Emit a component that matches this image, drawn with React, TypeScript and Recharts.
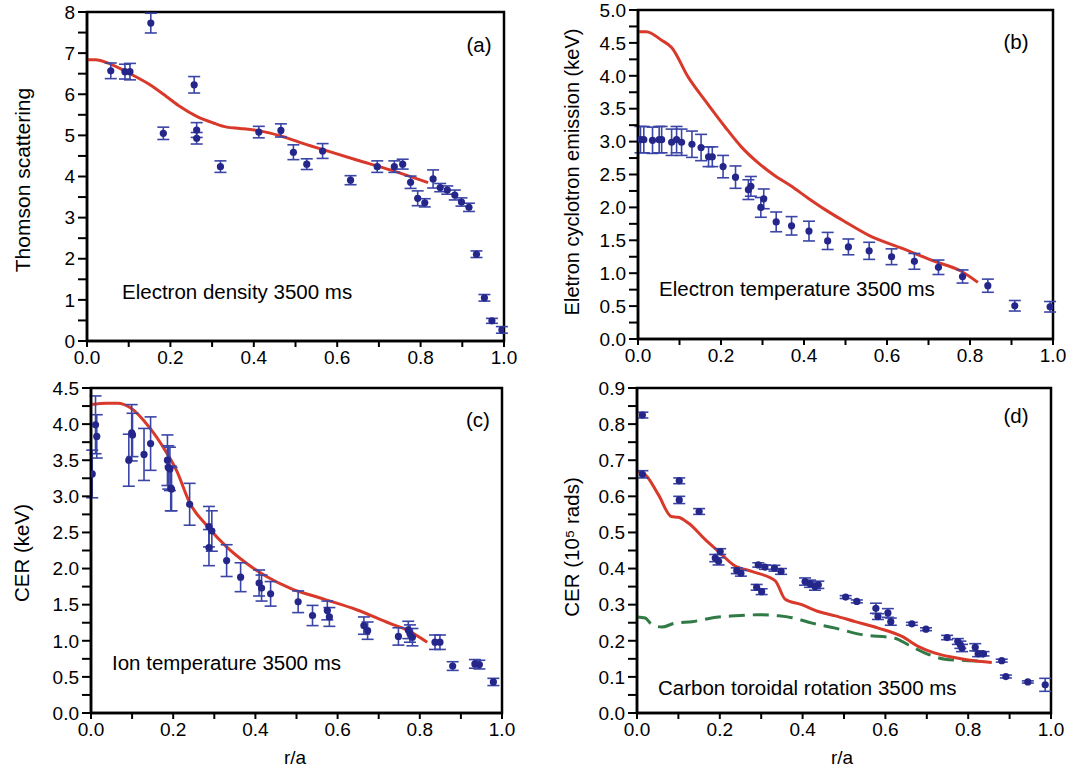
import React from 'react';
import { ComposedChart, Line, Scatter, ErrorBar, XAxis, YAxis, ReferenceArea } from 'recharts';

type Pt = { r: number; v: number; e?: number };

const rTicks = [0, 0.1, 0.2, 0.3, 0.4, 0.5, 0.6, 0.7, 0.8, 0.9, 1.0];
const densityTicks = [0, 0.5, 1, 1.5, 2, 2.5, 3, 3.5, 4, 4.5, 5, 5.5, 6, 6.5, 7, 7.5, 8];
const teTicks = [0, 0.25, 0.5, 0.75, 1, 1.25, 1.5, 1.75, 2, 2.25, 2.5, 2.75, 3, 3.25, 3.5, 3.75, 4, 4.25, 4.5, 4.75, 5];
const tiTicks = [0, 0.25, 0.5, 0.75, 1, 1.25, 1.5, 1.75, 2, 2.25, 2.5, 2.75, 3, 3.25, 3.5, 3.75, 4, 4.25, 4.5];
const rotTicks = [0, 0.05, 0.1, 0.15, 0.2, 0.25, 0.3, 0.35, 0.4, 0.45, 0.5, 0.55, 0.6, 0.65, 0.7, 0.75, 0.8, 0.85, 0.9];

// (a) electron density
const densityPoints: Pt[] = [
  { r: 0.057, v: 6.57, e: 0.19 }, { r: 0.091, v: 6.55, e: 0.18 }, { r: 0.103, v: 6.55, e: 0.2 },
  { r: 0.153, v: 7.73, e: 0.24 }, { r: 0.183, v: 5.05, e: 0.15 }, { r: 0.257, v: 6.23, e: 0.2 },
  { r: 0.263, v: 5.13, e: 0.18 }, { r: 0.263, v: 4.93, e: 0.14 }, { r: 0.32, v: 4.24, e: 0.14 },
  { r: 0.412, v: 5.08, e: 0.14 }, { r: 0.465, v: 5.12, e: 0.16 }, { r: 0.495, v: 4.59, e: 0.18 },
  { r: 0.527, v: 4.3, e: 0.13 }, { r: 0.565, v: 4.62, e: 0.18 }, { r: 0.632, v: 3.91, e: 0.11 },
  { r: 0.696, v: 4.24, e: 0.14 }, { r: 0.737, v: 4.24, e: 0.14 }, { r: 0.757, v: 4.3, e: 0.12 },
  { r: 0.776, v: 3.86, e: 0.15 }, { r: 0.793, v: 3.47, e: 0.18 }, { r: 0.81, v: 3.36, e: 0.1 },
  { r: 0.83, v: 3.94, e: 0.22 }, { r: 0.847, v: 3.73, e: 0.1 }, { r: 0.864, v: 3.67, e: 0.1 },
  { r: 0.882, v: 3.55, e: 0.12 }, { r: 0.898, v: 3.38, e: 0.1 }, { r: 0.916, v: 3.25, e: 0.1 },
  { r: 0.934, v: 2.11, e: 0.08 }, { r: 0.953, v: 1.05, e: 0.08 }, { r: 0.971, v: 0.49, e: 0.06 },
  { r: 0.995, v: 0.27, e: 0.08 },
];
const densityModel: Pt[] = [
  { r: 0, v: 6.84 }, { r: 0.02, v: 6.84 }, { r: 0.055, v: 6.74 }, { r: 0.103, v: 6.5 },
  { r: 0.151, v: 6.23 }, { r: 0.191, v: 5.94 }, { r: 0.223, v: 5.7 }, { r: 0.263, v: 5.46 },
  { r: 0.303, v: 5.3 }, { r: 0.335, v: 5.2 }, { r: 0.367, v: 5.17 }, { r: 0.415, v: 5.11 },
  { r: 0.463, v: 4.99 }, { r: 0.51, v: 4.83 }, { r: 0.567, v: 4.65 }, { r: 0.647, v: 4.4 },
  { r: 0.727, v: 4.16 }, { r: 0.818, v: 3.85 },
];

// (b) electron temperature
const tePoints: Pt[] = [
  { r: 0.006, v: 3.03, e: 0.2 }, { r: 0.014, v: 3.03, e: 0.2 }, { r: 0.035, v: 3.02, e: 0.2 },
  { r: 0.051, v: 3.03, e: 0.2 }, { r: 0.057, v: 3.03, e: 0.2 }, { r: 0.081, v: 2.99, e: 0.2 },
  { r: 0.093, v: 3.03, e: 0.2 }, { r: 0.105, v: 2.99, e: 0.2 }, { r: 0.13, v: 2.96, e: 0.2 },
  { r: 0.152, v: 2.91, e: 0.2 }, { r: 0.17, v: 2.77, e: 0.15 }, { r: 0.179, v: 2.77, e: 0.15 },
  { r: 0.205, v: 2.62, e: 0.17 }, { r: 0.235, v: 2.46, e: 0.17 }, { r: 0.266, v: 2.27, e: 0.15 },
  { r: 0.272, v: 2.32, e: 0.15 }, { r: 0.296, v: 2.0, e: 0.15 }, { r: 0.303, v: 2.13, e: 0.15 },
  { r: 0.333, v: 1.78, e: 0.15 }, { r: 0.37, v: 1.72, e: 0.14 }, { r: 0.412, v: 1.64, e: 0.15 },
  { r: 0.457, v: 1.49, e: 0.13 }, { r: 0.507, v: 1.4, e: 0.12 }, { r: 0.557, v: 1.34, e: 0.13 },
  { r: 0.611, v: 1.25, e: 0.12 }, { r: 0.666, v: 1.18, e: 0.12 }, { r: 0.724, v: 1.09, e: 0.11 },
  { r: 0.782, v: 0.95, e: 0.1 }, { r: 0.843, v: 0.81, e: 0.1 }, { r: 0.908, v: 0.505, e: 0.08 },
  { r: 0.993, v: 0.49, e: 0.08 },
];
const teModel: Pt[] = [
  { r: 0, v: 4.67 }, { r: 0.02, v: 4.67 }, { r: 0.057, v: 4.54 }, { r: 0.081, v: 4.43 },
  { r: 0.121, v: 3.98 }, { r: 0.161, v: 3.63 }, { r: 0.209, v: 3.23 }, { r: 0.249, v: 2.92 },
  { r: 0.289, v: 2.68 }, { r: 0.33, v: 2.48 }, { r: 0.37, v: 2.32 }, { r: 0.41, v: 2.14 },
  { r: 0.45, v: 1.97 }, { r: 0.494, v: 1.8 }, { r: 0.555, v: 1.58 }, { r: 0.635, v: 1.38 },
  { r: 0.715, v: 1.18 }, { r: 0.779, v: 1.03 }, { r: 0.819, v: 0.86 },
];

// (c) ion temperature
const tiPoints: Pt[] = [
  { r: 0.003, v: 3.31, e: 0.33 }, { r: 0.011, v: 3.99, e: 0.4 }, { r: 0.014, v: 3.83, e: 0.3 },
  { r: 0.092, v: 3.5, e: 0.36 }, { r: 0.099, v: 3.88, e: 0.39 }, { r: 0.101, v: 3.85, e: 0.3 },
  { r: 0.129, v: 3.58, e: 0.36 }, { r: 0.145, v: 3.73, e: 0.37 }, { r: 0.186, v: 3.5, e: 0.35 },
  { r: 0.188, v: 3.4, e: 0.3 }, { r: 0.192, v: 3.38, e: 0.3 }, { r: 0.194, v: 3.11, e: 0.31 },
  { r: 0.196, v: 3.1, e: 0.3 }, { r: 0.24, v: 2.89, e: 0.29 }, { r: 0.287, v: 2.58, e: 0.28 },
  { r: 0.294, v: 2.52, e: 0.28 }, { r: 0.287, v: 2.29, e: 0.25 }, { r: 0.33, v: 2.11, e: 0.22 },
  { r: 0.364, v: 1.88, e: 0.2 }, { r: 0.409, v: 1.8, e: 0.18 }, { r: 0.415, v: 1.73, e: 0.18 },
  { r: 0.437, v: 1.65, e: 0.17 }, { r: 0.504, v: 1.54, e: 0.15 }, { r: 0.539, v: 1.35, e: 0.14 },
  { r: 0.575, v: 1.42, e: 0.13 }, { r: 0.58, v: 1.33, e: 0.13 }, { r: 0.664, v: 1.21, e: 0.12 },
  { r: 0.673, v: 1.14, e: 0.12 }, { r: 0.748, v: 1.06, e: 0.12 }, { r: 0.772, v: 1.15, e: 0.12 },
  { r: 0.776, v: 1.1, e: 0.12 }, { r: 0.782, v: 1.05, e: 0.12 }, { r: 0.837, v: 0.98, e: 0.1 },
  { r: 0.849, v: 0.98, e: 0.1 }, { r: 0.88, v: 0.65, e: 0.06 }, { r: 0.934, v: 0.68, e: 0.06 },
  { r: 0.945, v: 0.67, e: 0.06 }, { r: 0.979, v: 0.43, e: 0.05 },
];
const tiModel: Pt[] = [
  { r: 0, v: 4.27 }, { r: 0.038, v: 4.29 }, { r: 0.066, v: 4.29 }, { r: 0.095, v: 4.23 },
  { r: 0.144, v: 3.94 }, { r: 0.18, v: 3.64 }, { r: 0.208, v: 3.36 }, { r: 0.241, v: 2.9 },
  { r: 0.281, v: 2.6 }, { r: 0.33, v: 2.3 }, { r: 0.379, v: 2.07 }, { r: 0.427, v: 1.89 },
  { r: 0.484, v: 1.73 }, { r: 0.565, v: 1.58 }, { r: 0.646, v: 1.43 }, { r: 0.727, v: 1.24 },
  { r: 0.768, v: 1.15 }, { r: 0.818, v: 0.98 },
];

// (d) carbon toroidal rotation
const rotPoints: Pt[] = [
  { r: 0.013, v: 0.825, e: 0.008 }, { r: 0.013, v: 0.661, e: 0.01 }, { r: 0.102, v: 0.643, e: 0.008 },
  { r: 0.102, v: 0.59, e: 0.01 }, { r: 0.15, v: 0.558, e: 0.008 }, { r: 0.201, v: 0.447, e: 0.008 },
  { r: 0.189, v: 0.429, e: 0.01 }, { r: 0.197, v: 0.42, e: 0.01 }, { r: 0.241, v: 0.394, e: 0.008 },
  { r: 0.251, v: 0.387, e: 0.008 }, { r: 0.293, v: 0.41, e: 0.006 }, { r: 0.309, v: 0.404, e: 0.006 },
  { r: 0.332, v: 0.401, e: 0.008 }, { r: 0.348, v: 0.392, e: 0.008 }, { r: 0.289, v: 0.348, e: 0.008 },
  { r: 0.301, v: 0.336, e: 0.008 }, { r: 0.406, v: 0.364, e: 0.01 }, { r: 0.418, v: 0.358, e: 0.01 },
  { r: 0.43, v: 0.35, e: 0.01 }, { r: 0.438, v: 0.355, e: 0.01 }, { r: 0.504, v: 0.321, e: 0.004 },
  { r: 0.531, v: 0.309, e: 0.004 }, { r: 0.577, v: 0.29, e: 0.014 }, { r: 0.582, v: 0.267, e: 0.008 },
  { r: 0.606, v: 0.277, e: 0.012 }, { r: 0.613, v: 0.253, e: 0.01 }, { r: 0.664, v: 0.247, e: 0.004 },
  { r: 0.698, v: 0.232, e: 0.004 }, { r: 0.749, v: 0.209, e: 0.006 }, { r: 0.775, v: 0.198, e: 0.008 },
  { r: 0.781, v: 0.189, e: 0.01 }, { r: 0.785, v: 0.18, e: 0.01 }, { r: 0.817, v: 0.182, e: 0.01 },
  { r: 0.824, v: 0.164, e: 0.008 }, { r: 0.837, v: 0.164, e: 0.006 }, { r: 0.881, v: 0.145, e: 0.004 },
  { r: 0.891, v: 0.101, e: 0.004 }, { r: 0.944, v: 0.086, e: 0.003 }, { r: 0.986, v: 0.078, e: 0.018 },
];
const rotModel: Pt[] = [
  { r: 0, v: 0.67 }, { r: 0.021, v: 0.659 }, { r: 0.052, v: 0.604 }, { r: 0.083, v: 0.544 },
  { r: 0.1, v: 0.542 }, { r: 0.124, v: 0.526 }, { r: 0.165, v: 0.48 }, { r: 0.201, v: 0.443 },
  { r: 0.233, v: 0.41 }, { r: 0.277, v: 0.392 }, { r: 0.334, v: 0.366 }, { r: 0.358, v: 0.315 },
  { r: 0.398, v: 0.3 }, { r: 0.438, v: 0.281 }, { r: 0.479, v: 0.269 }, { r: 0.527, v: 0.253 },
  { r: 0.583, v: 0.235 }, { r: 0.64, v: 0.212 }, { r: 0.68, v: 0.184 }, { r: 0.72, v: 0.166 },
  { r: 0.76, v: 0.155 }, { r: 0.8, v: 0.147 }, { r: 0.857, v: 0.14 },
];
const rotModel2: Pt[] = [
  { r: 0, v: 0.266 }, { r: 0.02, v: 0.263 }, { r: 0.032, v: 0.249 }, { r: 0.06, v: 0.238 },
  { r: 0.092, v: 0.249 }, { r: 0.133, v: 0.253 }, { r: 0.197, v: 0.266 }, { r: 0.237, v: 0.269 },
  { r: 0.293, v: 0.272 }, { r: 0.342, v: 0.269 }, { r: 0.374, v: 0.264 }, { r: 0.423, v: 0.249 },
  { r: 0.479, v: 0.235 }, { r: 0.543, v: 0.217 }, { r: 0.623, v: 0.207 }, { r: 0.655, v: 0.189 },
  { r: 0.696, v: 0.166 }, { r: 0.744, v: 0.149 }, { r: 0.8, v: 0.145 }, { r: 0.841, v: 0.143 },
];

const RED = '#d8392b';
const GREEN = '#2f7a45';
const DOT = '#25268a';
const BAR = '#3a45a6';
const FONT = '"Liberation Sans", Arial, sans-serif';

const fmtR = (v: number) => (Math.round(v * 10) % 2 === 0 ? v.toFixed(1) : '');
const fmtInt = (v: number) => (v % 1 === 0 ? String(v) : '');
const fmtHalf = (v: number) => (Math.round(v * 4) % 2 === 0 ? v.toFixed(1) : '');
const fmtTenth = (v: number) => (Math.round(v * 20) % 2 === 0 ? v.toFixed(1) : '');

const dotShape = (p: any) => <circle cx={p.cx} cy={p.cy} r={3.6} fill={DOT} />;

interface PanelProps {
  left: number;
  top: number;
  width: number;
  height: number;
  margin: { top: number; right: number; left: number; bottom: number };
  yWidth: number;
  xHeight: number;
  yMax: number;
  yTicks: number[];
  yFmt: (v: number) => string;
  points: Pt[];
  model: Pt[];
  model2?: Pt[];
}

const tickStyle = { fill: '#000', fontSize: 19, fontFamily: FONT };

const Panel: React.FC<PanelProps> = ({ left, top, width, height, margin, yWidth, xHeight, yMax, yTicks, yFmt, points, model, model2 }) => (
  <div style={{ position: 'absolute', left, top }}>
    <ComposedChart width={width} height={height} margin={margin}>
      <XAxis
        dataKey="r"
        type="number"
        domain={[0, 1]}
        ticks={rTicks}
        tickFormatter={fmtR}
        interval={0}
        height={xHeight}
        axisLine={{ stroke: '#000', strokeWidth: 2.5 }}
        tickLine={{ stroke: '#000', strokeWidth: 2 }}
        tickSize={6}
        tickMargin={4}
        tick={tickStyle}
        allowDataOverflow
      />
      <YAxis
        dataKey="v"
        type="number"
        domain={[0, yMax]}
        ticks={yTicks}
        tickFormatter={yFmt}
        interval={0}
        width={yWidth}
        axisLine={{ stroke: '#000', strokeWidth: 2.5 }}
        tickLine={{ stroke: '#000', strokeWidth: 2 }}
        tickSize={9}
        tickMargin={3}
        tick={tickStyle}
        allowDataOverflow
      />
      <ReferenceArea x1={0} x2={1} y1={0} y2={yMax} fill="none" stroke="#000" strokeWidth={2.5} />
      {model2 && (
        <Line data={model2} dataKey="v" type="monotone" stroke={GREEN} strokeWidth={3} strokeDasharray="16 8" dot={false} isAnimationActive={false} />
      )}
      <Line data={model} dataKey="v" type="monotone" stroke={RED} strokeWidth={3} dot={false} isAnimationActive={false} />
      <Scatter data={points} dataKey="v" shape={dotShape} isAnimationActive={false}>
        <ErrorBar dataKey="e" direction="y" width={6} stroke={BAR} strokeWidth={1.6} isAnimationActive={false} />
      </Scatter>
    </ComposedChart>
  </div>
);

const Txt: React.FC<{ x: number; y: number; size?: number; rotate?: boolean; center?: boolean; children: React.ReactNode }> = ({ x, y, size = 20.5, rotate, center, children }) => (
  <div
    style={{
      position: 'absolute',
      left: x,
      top: y,
      fontSize: size,
      fontFamily: FONT,
      color: '#000',
      whiteSpace: 'nowrap',
      lineHeight: 1,
      transform: rotate ? 'translate(-50%, -50%) rotate(-90deg)' : center ? 'translate(-50%, -50%)' : 'translateY(-50%)',
    }}
  >
    {children}
  </div>
);

export default function App() {
  return (
    <div style={{ position: 'absolute', left: 0, top: 0, width: 1074, height: 774, background: '#fff', overflow: 'hidden' }}>
      <Panel left={0} top={0} width={520} height={375} margin={{ top: 12, right: 16, left: 0, bottom: 0 }} yWidth={87} xHeight={34}
        yMax={8} yTicks={densityTicks} yFmt={fmtInt} points={densityPoints} model={densityModel} />
      <Panel left={560} top={0} width={510} height={373} margin={{ top: 10, right: 17, left: 0, bottom: 0 }} yWidth={78} xHeight={34}
        yMax={5} yTicks={teTicks} yFmt={fmtHalf} points={tePoints} model={teModel} />
      <Panel left={0} top={375} width={520} height={380} margin={{ top: 13, right: 18, left: 0, bottom: 0 }} yWidth={91} xHeight={42}
        yMax={4.5} yTicks={tiTicks} yFmt={fmtHalf} points={tiPoints} model={tiModel} />
      <Panel left={560} top={375} width={510} height={380} margin={{ top: 13, right: 19, left: 0, bottom: 0 }} yWidth={77} xHeight={42}
        yMax={0.9} yTicks={rotTicks} yFmt={fmtTenth} points={rotPoints} model={rotModel} model2={rotModel2} />

      <Txt x={22} y={180} size={21} rotate>Thomson scattering</Txt>
      <Txt x={572} y={172} size={20} rotate>Eletron cyclotron emission (keV)</Txt>
      <Txt x={22} y={553} size={20.5} rotate>CER (keV)</Txt>
      <Txt x={572} y={547} size={20.5} rotate>CER (10⁵ rads)</Txt>

      <Txt x={479} y={45} center>(a)</Txt>
      <Txt x={1016} y={42} center>(b)</Txt>
      <Txt x={478} y={420} center>(c)</Txt>
      <Txt x={1016} y={416} center>(d)</Txt>

      <Txt x={122} y={292}>Electron density 3500 ms</Txt>
      <Txt x={659} y={289}>Electron temperature 3500 ms</Txt>
      <Txt x={112} y={663}>Ion temperature 3500 ms</Txt>
      <Txt x={658} y={688}>Carbon toroidal rotation 3500 ms</Txt>

      <Txt x={295} y={757} size={19} center>r/a</Txt>
      <Txt x={842} y={757} size={19} center>r/a</Txt>
    </div>
  );
}
